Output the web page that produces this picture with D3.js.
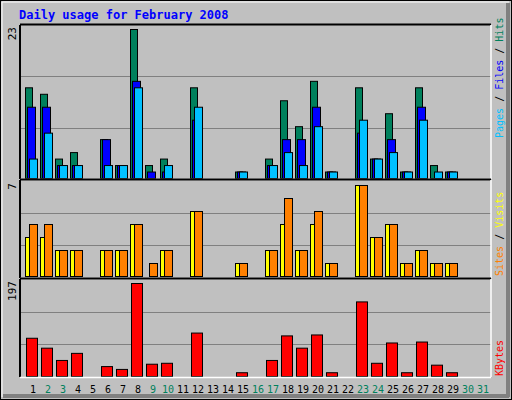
<!DOCTYPE html>
<html>
<head>
<meta charset="utf-8">
<script src="https://cdn.jsdelivr.net/npm/d3@7"></script>
<style>
  body { margin: 0; background: #fff; }
  text { font-family: "DejaVu Sans Mono", monospace; }
</style>
</head>
<body>
<svg id="chart"></svg>
<script>
const days = d3.range(1, 32);
const weekend = [2, 3, 9, 10, 16, 17, 23, 24, 30, 31];
// values per day, 1..31
const hits   = [14,13,3,4,0,6,2,23,2,3,0,14,0,0,1,0,3,12,8,15,1,0,14,3,10,1,14,2,1,0,0];
const files  = [11,11,2,2,0,6,2,15,1,1,0,9,0,0,1,0,2,6,6,11,1,0,7,3,6,1,11,0,1,0,0];
const pages  = [3,7,2,2,0,2,2,14,0,2,0,11,0,0,1,0,2,4,2,8,1,0,9,3,4,1,9,1,1,0,0];
const visits = [3,3,2,2,0,2,2,4,0,2,0,5,0,0,1,0,2,4,2,4,1,0,7,3,4,1,2,1,1,0,0];
const sites  = [4,4,2,2,0,2,2,4,1,2,0,5,0,0,1,0,2,6,2,5,1,0,7,3,4,1,2,1,1,0,0];
const kbytes = [81,60,34,49,0,21,15,197,26,28,0,92,0,0,8,0,34,86,60,88,8,0,158,28,71,8,73,24,8,0,0];

const W = 512, H = 400;
const left = 20, right = 491;
const svg = d3.select('#chart').attr('width', W).attr('height', H);

// frame
svg.append('rect').attr('width', W).attr('height', H).attr('fill', '#c0c0c0');
svg.append('rect').attr('x', 0.5).attr('y', 0.5).attr('width', W - 1).attr('height', H - 1)
  .attr('fill', 'none').attr('stroke', '#000');
svg.append('rect').attr('x', W - 6).attr('y', 3).attr('width', 4).attr('height', H - 6).attr('fill', '#808080');
svg.append('rect').attr('x', 3).attr('y', H - 6).attr('width', W - 6).attr('height', 4).attr('fill', '#808080');
svg.append('line').attr('x1', 2).attr('y1', 2).attr('x2', W - 3).attr('y2', 2).attr('stroke', '#fff');
svg.append('line').attr('x1', 2).attr('y1', 2).attr('x2', 2).attr('y2', H - 3).attr('stroke', '#fff');

svg.append('text').attr('x', 19).attr('y', 19).text('Daily usage for February 2008')
  .attr('fill', '#0000ff').attr('font-weight', 'bold').attr('font-size', 12);

const x = d3.scaleBand().domain(days).range([25, 25 + 15 * 31]).paddingInner(0);

const panels = [
  { top: 25, bottom: 179, max: 23, lab: 138, series: [[hits, '#00805c', 0, 7], [files, '#0000ff', 2, 8], [pages, '#00c0ff', 4, 8]],
    labels: [['Pages', '#00c0ff'], [' / ', '#000'], ['Files', '#0000ff'], [' / ', '#000'], ['Hits', '#00805c']] },
  { top: 181, bottom: 277, max: 7, lab: 276, series: [[visits, '#ffff00', 0, 7], [sites, '#ff8000', 4, 8]],
    labels: [['Sites', '#ff8000'], [' / ', '#000'], ['Visits', '#ffff00']] },
  { top: 279, bottom: 377, max: 197, lab: 376, series: [[kbytes, '#ff0000', 1, 11]],
    labels: [['KBytes', '#ff0000']] }
];

panels.forEach(p => {
  const y = d3.scaleLinear().domain([0, p.max]).range([p.bottom - 1, p.top + 4]);
  const h = p.bottom - p.top;
  [1 / 3, 2 / 3].forEach(f => {
    svg.append('line').attr('x1', left).attr('x2', right)
      .attr('y1', Math.round(p.top + h * f) + 0.5).attr('y2', Math.round(p.top + h * f) + 0.5)
      .attr('stroke', '#808080');
  });
  p.series.forEach(([vals, color, off, bw]) => {
    svg.append('g').selectAll('rect')
      .data(vals.map((v, i) => ({ d: i + 1, v })).filter(o => o.v > 0))
      .join('rect')
      .attr('x', o => x(o.d) + off + 0.5)
      .attr('y', o => y(o.v) + 0.5)
      .attr('width', bw)
      .attr('height', o => p.bottom - 1 - y(o.v))
      .attr('fill', color).attr('stroke', '#000');
  });
  // max label
  svg.append('text').attr('transform', `translate(16,${p.top + 2}) rotate(-90)`)
    .attr('text-anchor', 'end').attr('font-size', 11).text(p.max);
  // series label on right
  const t = svg.append('text').attr('transform', `translate(503,${p.lab}) rotate(-90)`)
    .attr('font-size', 10);
  p.labels.forEach(([s, c]) => t.append('tspan').attr('fill', c).text(s));
});

// panel borders
[[25, 179], [180, 278], [279, 377]].forEach(([t, b]) => {
  svg.append('line').attr('x1', left).attr('x2', right).attr('y1', t - 0.5).attr('y2', t - 0.5).attr('stroke', '#000').attr('stroke-width', 2);
  svg.append('line').attr('x1', left).attr('x2', left).attr('y1', t).attr('y2', b).attr('stroke', '#000').attr('stroke-width', 2);
  svg.append('line').attr('x1', left).attr('x2', right).attr('y1', b + 0.5).attr('y2', b + 0.5).attr('stroke', '#fff').attr('stroke-width', 1.5);
  svg.append('line').attr('x1', right).attr('x2', right).attr('y1', t).attr('y2', b).attr('stroke', '#fff').attr('stroke-width', 1.5);
});

// day labels
svg.append('g').selectAll('text').data(days).join('text')
  .attr('x', d => x(d) + 8).attr('y', 393)
  .attr('text-anchor', 'middle').attr('font-size', 10)
  .attr('fill', d => weekend.includes(d) ? '#00805c' : '#000')
  .text(d => d);
</script>
</body>
</html>
